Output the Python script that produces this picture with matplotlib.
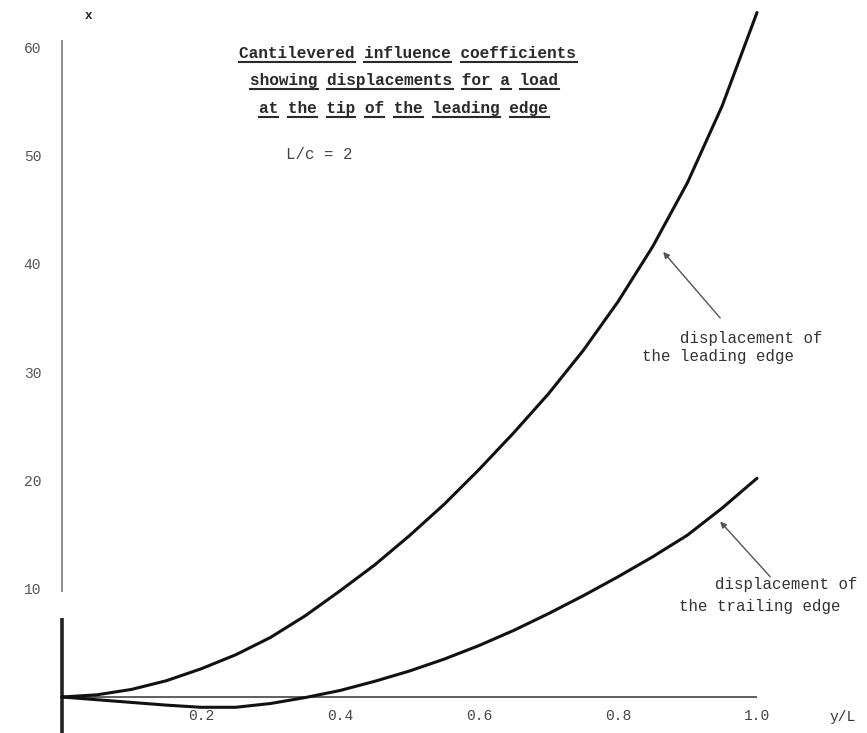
import matplotlib
matplotlib.use('Agg')
import matplotlib.pyplot as plt
from matplotlib.lines import Line2D

plt.rcParams['font.family'] = ['Liberation Mono', 'DejaVu Sans Mono', 'DejaVu Sans']

# ---------------- data ----------------
span_lead = [0.0, 0.05, 0.1, 0.15, 0.2, 0.25, 0.3, 0.35, 0.4, 0.45, 0.5, 0.55,
             0.6, 0.65, 0.7, 0.75, 0.8, 0.85, 0.9, 0.95, 1.0]
disp_lead = [0.0, 0.2, 0.7, 1.5, 2.6, 3.9, 5.5, 7.5, 9.8, 12.2, 14.9, 17.8,
             21.0, 24.4, 28.0, 32.0, 36.5, 41.6, 47.5, 54.6, 63.2]

span_trail = [0.0, 0.05, 0.1, 0.15, 0.2, 0.25, 0.3, 0.35, 0.4, 0.45, 0.5, 0.55,
              0.6, 0.65, 0.7, 0.75, 0.8, 0.85, 0.9, 0.95, 1.0]
disp_trail = [0.0, -0.25, -0.5, -0.75, -0.95, -0.95, -0.6, -0.05, 0.6, 1.45, 2.4, 3.5,
              4.75, 6.15, 7.7, 9.35, 11.1, 12.95, 14.95, 17.45, 20.2]

xticks = [0.2, 0.4, 0.6, 0.8, 1.0]
xtick_labels = ['0.2', '0.4', '0.6', '0.8', '1.0']
yticks = [10, 20, 30, 40, 50, 60]
ytick_labels = ['10', '20', '30', '40', '50', '60']

title_lines = ['Cantilevered influence coefficients',
               'showing displacements for a load',
               'at the tip of the leading edge']
ratio_text = 'L/c = 2'
lead_label = ['displacement of', 'the leading edge']
trail_label = ['displacement of', 'the trailing edge']
x_axis_label = 'y/L'
y_axis_label = 'x'

# ---------------- figure ----------------
W, H = 867, 733
fig = plt.figure(figsize=(W / 100, H / 100), dpi=100)
fig.patch.set_facecolor('white')
x0_px, y0_px = 62, 697          # origin in pixels
px_per_x, px_per_y = 695, 10.83
ax = fig.add_axes([x0_px / W, (H - y0_px) / H, (W - x0_px) / W, y0_px / H])
ax.set_xlim(0, (W - x0_px) / px_per_x)
ax.set_ylim(0, y0_px / px_per_y)
for s in ax.spines.values():
    s.set_visible(False)
ax.set_facecolor('white')

# axes lines
ax.hlines(0, 0, 1.0, color='#444444', lw=1.2, clip_on=False, zorder=2)
ax.vlines(0, 9.7, 60.7, color='#7a7a7a', lw=1.2, clip_on=False, zorder=2)
ax.vlines(0, -3.4, 7.3, color='#222222', lw=2.6, clip_on=False, zorder=2)

# curves
ax.plot(span_lead, disp_lead, color='#111111', lw=2.2, clip_on=False,
        solid_capstyle='round', solid_joinstyle='round', zorder=3)
ax.plot(span_trail, disp_trail, color='#111111', lw=2.2, clip_on=False,
        solid_capstyle='round', solid_joinstyle='round', zorder=3)

# ticks
ax.set_xticks(xticks)
ax.set_xticklabels(xtick_labels)
ax.set_yticks(yticks)
ax.set_yticklabels(ytick_labels)
ax.tick_params(axis='x', length=0, pad=9, labelsize=10.5, labelcolor='#444444')
ax.tick_params(axis='y', length=0, pad=15, labelsize=10.5, labelcolor='#555555')


def px(x, y):
    return x / W, 1 - y / H


def typed_line(s, x0, base, fs, weight, color, underline):
    fig.text(*px(x0, base), s, fontsize=fs, fontweight=weight, color=color,
             ha='left', va='baseline')
    if underline:
        cw = 0.6 * fs * 100 / 72
        i = 0
        for word in s.split(' '):
            if word:
                xa = x0 + i * cw
                xb = xa + len(word) * cw
                fig.add_artist(Line2D([xa / W, xb / W], [1 - (base + 3.5) / H] * 2,
                                      transform=fig.transFigure, color=color, lw=1.5))
            i += len(word) + 1


title_fs = 11.58
typed_line(title_lines[0], 239, 58, title_fs, 'bold', '#2a2a2a', True)
typed_line(title_lines[1], 250, 85, title_fs, 'bold', '#2a2a2a', True)
typed_line(title_lines[2], 259, 113, title_fs, 'bold', '#2a2a2a', True)
typed_line(ratio_text, 286, 159, 11.3, 'normal', '#444444', False)

ann_fs = 11.34
typed_line(lead_label[0], 680, 343, ann_fs, 'normal', '#333333', False)
typed_line(lead_label[1], 642, 361, ann_fs, 'normal', '#333333', False)
typed_line(trail_label[0], 715, 589, ann_fs, 'normal', '#333333', False)
typed_line(trail_label[1], 679, 611, ann_fs, 'normal', '#333333', False)

fig.text(*px(843, 717), x_axis_label, fontsize=10.5, color='#333333',
         ha='center', va='center')
fig.text(*px(88, 16), y_axis_label, fontsize=9, fontweight='bold', color='#222222',
         ha='center', va='center')

# pointer arrows
ax.annotate('', xy=(0.865, 41.1), xytext=(0.947, 35.0),
            arrowprops=dict(arrowstyle='-|>', color='#555555', lw=1.0,
                            mutation_scale=9, shrinkA=0, shrinkB=0))
ax.annotate('', xy=(0.947, 16.2), xytext=(1.019, 11.1),
            arrowprops=dict(arrowstyle='-|>', color='#555555', lw=1.0,
                            mutation_scale=9, shrinkA=0, shrinkB=0),
            annotation_clip=False)

fig.savefig('out.png', dpi=100, facecolor='white')
